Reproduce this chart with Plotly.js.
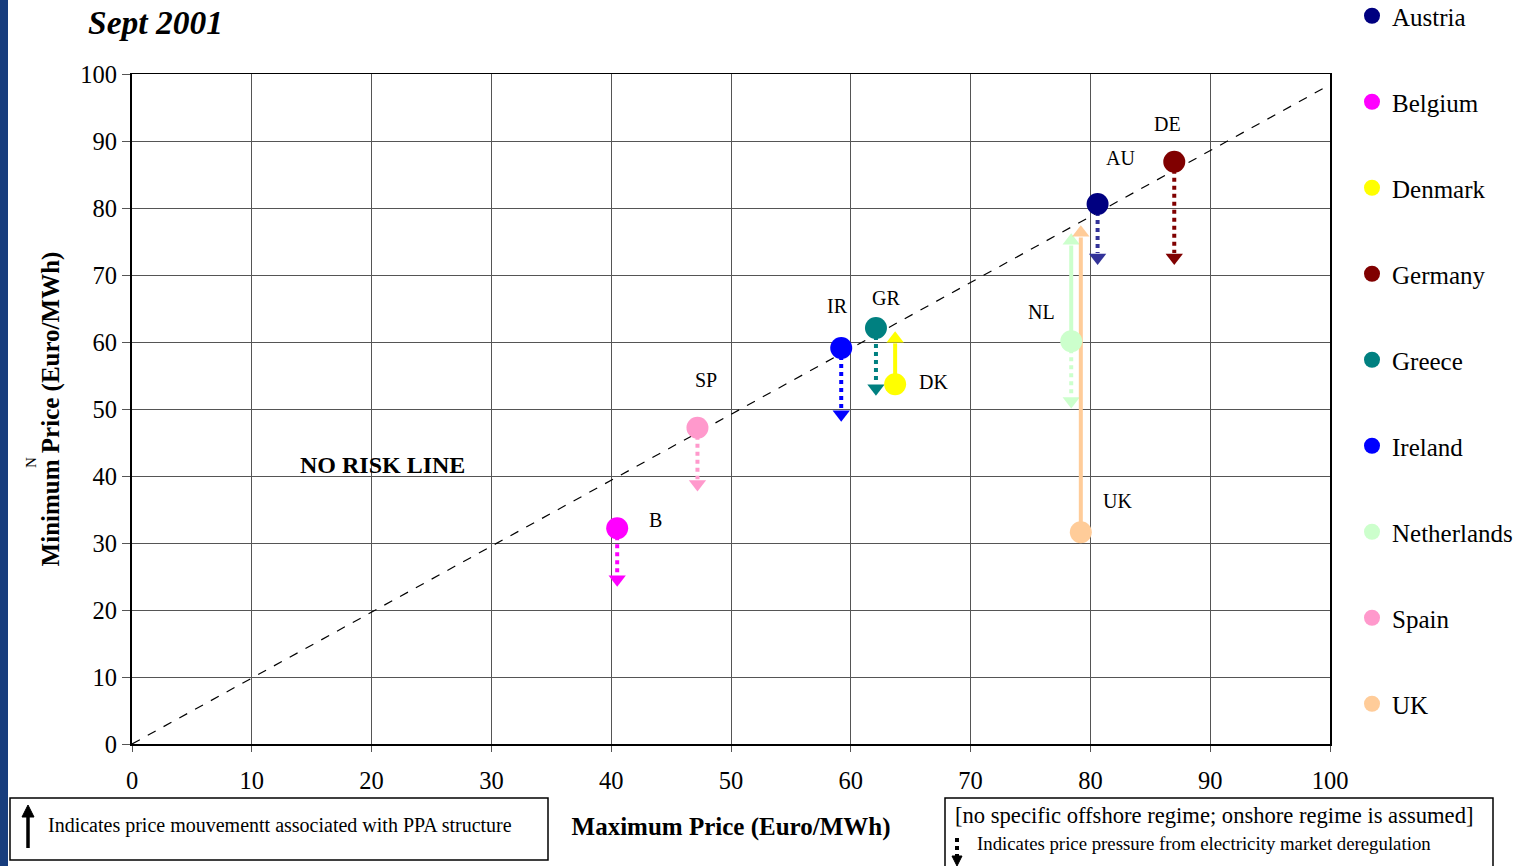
<!DOCTYPE html>
<html>
<head>
<meta charset="utf-8">
<script src="https://cdn.plot.ly/plotly-3.0.1.min.js"></script>
<style>
html,body{margin:0;padding:0;background:#fff;}
#chart{width:1520px;height:866px;position:relative;}
#bar{position:absolute;left:0;top:0;width:8px;height:866px;background:#173d7d;z-index:5;}
</style>
</head>
<body>
<div id="bar"></div>
<div id="chart"></div>
<script>
// ---- data ----
const countries = ['Austria','Belgium','Denmark','Germany','Greece','Ireland','Netherlands','Spain','UK'];
const codes     = ['AU','B','DK','DE','GR','IR','NL','SP','UK'];
const maxPrice  = [80.6, 40.5, 63.7, 87.0, 62.1, 59.2, 78.4, 47.2, 79.2];
const minPrice  = [80.6, 32.2, 53.7, 86.9, 62.1, 59.1, 60.1, 47.2, 31.6];
// end of dotted arrow (price pressure from deregulation)
const deregTo   = [71.3, 23.3, null, 71.3, 51.8, 47.9, 49.9, 37.5, null];
// end of solid arrow (PPA structure)
const ppaTo     = [null, null, 61.8, null, null, null, 76.4, null, 77.6];
const colors    = ['#000080','#FF00FF','#FFFF00','#800000','#008080','#0000FF','#CCFFCC','#FF99CC','#FFCC99'];
const arrowColors = ['#333399','#FF00FF','#FFFF00','#800000','#008080','#0000FF','#CCFFCC','#FF99CC','#FFCC99'];
// label positions in data units
const labelPos  = [[82.5,87.5],[43.7,33.5],[66.9,54.0],[86.4,92.5],[62.9,66.6],[58.9,65.3],[75.9,64.5],[47.9,54.3],[82.3,36.3]];
const noRiskX = [0, 100.4];
const noRiskY = [0, 98.8];
const xTicks = [0,10,20,30,40,50,60,70,80,90,100];
const yTicks = [0,10,20,30,40,50,60,70,80,90,100];

const serif = 'Liberation Serif, Times New Roman, serif';
const traces = [];

// no risk line
traces.push({x:noRiskX, y:noRiskY, mode:'lines', line:{color:'#000', width:1.2, dash:'dash'}, showlegend:false, hoverinfo:'skip'});

// arrows
countries.forEach((c,i)=>{
  if (deregTo[i] !== null) {
    traces.push({x:[maxPrice[i], maxPrice[i]], y:[minPrice[i], deregTo[i]+2.0], mode:'lines',
      line:{color:arrowColors[i], width:4, dash:'dot'}, showlegend:false, hoverinfo:'skip'});
    traces.push({x:[maxPrice[i]], y:[deregTo[i]+1.3], mode:'markers',
      marker:{symbol:'triangle-down', size:15, color:arrowColors[i]}, showlegend:false, hoverinfo:'skip'});
  }
  if (ppaTo[i] !== null) {
    traces.push({x:[maxPrice[i], maxPrice[i]], y:[minPrice[i], ppaTo[i]-2.0], mode:'lines',
      line:{color:arrowColors[i], width:4}, showlegend:false, hoverinfo:'skip'});
    traces.push({x:[maxPrice[i]], y:[ppaTo[i]-1.3], mode:'markers',
      marker:{symbol:'triangle-up', size:15, color:arrowColors[i]}, showlegend:false, hoverinfo:'skip'});
  }
});

// points
countries.forEach((c,i)=>{
  traces.push({x:[maxPrice[i]], y:[minPrice[i]], mode:'markers', name:c, legendgroup:c,
    marker:{size:22, color:colors[i]}, showlegend:true});
});

const annotations = [];
codes.forEach((code,i)=>{
  annotations.push({x:labelPos[i][0], y:labelPos[i][1], xref:'x', yref:'y', text:code, showarrow:false,
    font:{family:serif, size:20, color:'#000'}});
});
annotations.push({x:20.9, y:41.7, xref:'x', yref:'y', text:'<b>NO RISK LINE</b>', showarrow:false,
  font:{family:serif, size:24, color:'#000'}});
annotations.push({x:86, y:22, xref:'paper', yref:'paper', xanchor:'left', yanchor:'middle', text:'<b><i>Sept 2001</i></b>',
  showarrow:false, font:{family:serif, size:33.5, color:'#000'}});
annotations.push({x:31, y:463, xref:'paper', yref:'paper', xanchor:'center', yanchor:'middle', text:'N', showarrow:false, textangle:-90,
  font:{family:serif, size:15, color:'#000'}});
annotations.push({x:46, y:825, xref:'paper', yref:'paper', xanchor:'left', yanchor:'middle',
  text:'Indicates price mouvementt associated with PPA structure', showarrow:false,
  font:{family:serif, size:20, color:'#000'}});
annotations.push({x:953, y:815, xref:'paper', yref:'paper', xanchor:'left', yanchor:'middle',
  text:'[no specific offshore regime; onshore regime is assumed]', showarrow:false,
  font:{family:serif, size:22.6, color:'#000'}});
annotations.push({x:975, y:843, xref:'paper', yref:'paper', xanchor:'left', yanchor:'middle',
  text:'Indicates price pressure from electricity market deregulation', showarrow:false,
  font:{family:serif, size:18.8, color:'#000'}});

// convert pixel-positioned paper annotations
const W=1520, H=866, L=132, R=190, T=74, B=122;
const pw = W-L-R, ph = H-T-B;
annotations.forEach(a=>{
  if (a.xref==='paper') { a.x = (a.x - L)/pw; a.y = (H - B - a.y)/ph; }
});
function px(xp){return (xp-L)/pw;}
function py(yp){return (H-B-yp)/ph;}

const shapes = [
  {type:'rect', xref:'paper', yref:'paper', x0:px(10), x1:px(548), y0:py(798), y1:py(860), line:{color:'#000', width:1.5}, fillcolor:'rgba(0,0,0,0)'},
  {type:'rect', xref:'paper', yref:'paper', x0:px(945), x1:px(1493), y0:py(798), y1:py(870), line:{color:'#000', width:1.5}, fillcolor:'rgba(0,0,0,0)'},
  // legend-box arrow (PPA)
  {type:'line', xref:'paper', yref:'paper', x0:px(28), x1:px(28), y0:py(848), y1:py(814), line:{color:'#000', width:3.5}},
  {type:'path', xref:'paper', yref:'paper', path:`M ${px(22)} ${py(817)} L ${px(28)} ${py(805)} L ${px(34)} ${py(817)} Z`, fillcolor:'#000', line:{color:'#000', width:1}},
  // legend-box dotted arrow (deregulation)
  {type:'line', xref:'paper', yref:'paper', x0:px(957), x1:px(957), y0:py(838), y1:py(856), line:{color:'#000', width:4, dash:'dot'}},
  {type:'path', xref:'paper', yref:'paper', path:`M ${px(952)} ${py(856)} L ${px(957)} ${py(866)} L ${px(962)} ${py(856)} Z`, fillcolor:'#000', line:{color:'#000', width:1}}
];

const layout = {
  width:W, height:H,
  margin:{l:L, r:R, t:T, b:B, autoexpand:false},
  paper_bgcolor:'#fff', plot_bgcolor:'#fff',
  font:{family:serif, color:'#000'},
  showlegend:true,
  legend:{x:px(1352), y:py(-7), xanchor:'left', yanchor:'top', font:{family:serif, size:25, color:'#000'},
          tracegroupgap:50.5, bgcolor:'rgba(0,0,0,0)', maxheight:870},
  xaxis:{range:[0,100], tickvals:xTicks, ticktext:xTicks.map(String), showgrid:true, gridcolor:'#555', gridwidth:1,
         zeroline:false, showline:true, linecolor:'#000', linewidth:1.5, mirror:true,
         ticks:'outside', ticklen:6, tickcolor:'#555', ticklabelstandoff:8,
         tickfont:{family:serif, size:24.5, color:'#000'},
         title:{text:'<b>Maximum Price (Euro/MWh)</b>', font:{family:serif, size:25, color:'#000'}, standoff:24}},
  yaxis:{range:[0,100], tickvals:yTicks, ticktext:yTicks.map(String), showgrid:true, gridcolor:'#555', gridwidth:1,
         zeroline:false, showline:true, linecolor:'#000', linewidth:2, mirror:true,
         ticks:'outside', ticklen:8, tickcolor:'#555',
         tickfont:{family:serif, size:24.5, color:'#000'},
         title:{text:'<b>Minimum Price (Euro/MWh)</b>', font:{family:serif, size:25, color:'#000'}, standoff:14}},
  annotations:annotations,
  shapes:shapes
};

Plotly.newPlot('chart', traces, layout, {displayModeBar:false, staticPlot:true});
</script>
</body>
</html>
